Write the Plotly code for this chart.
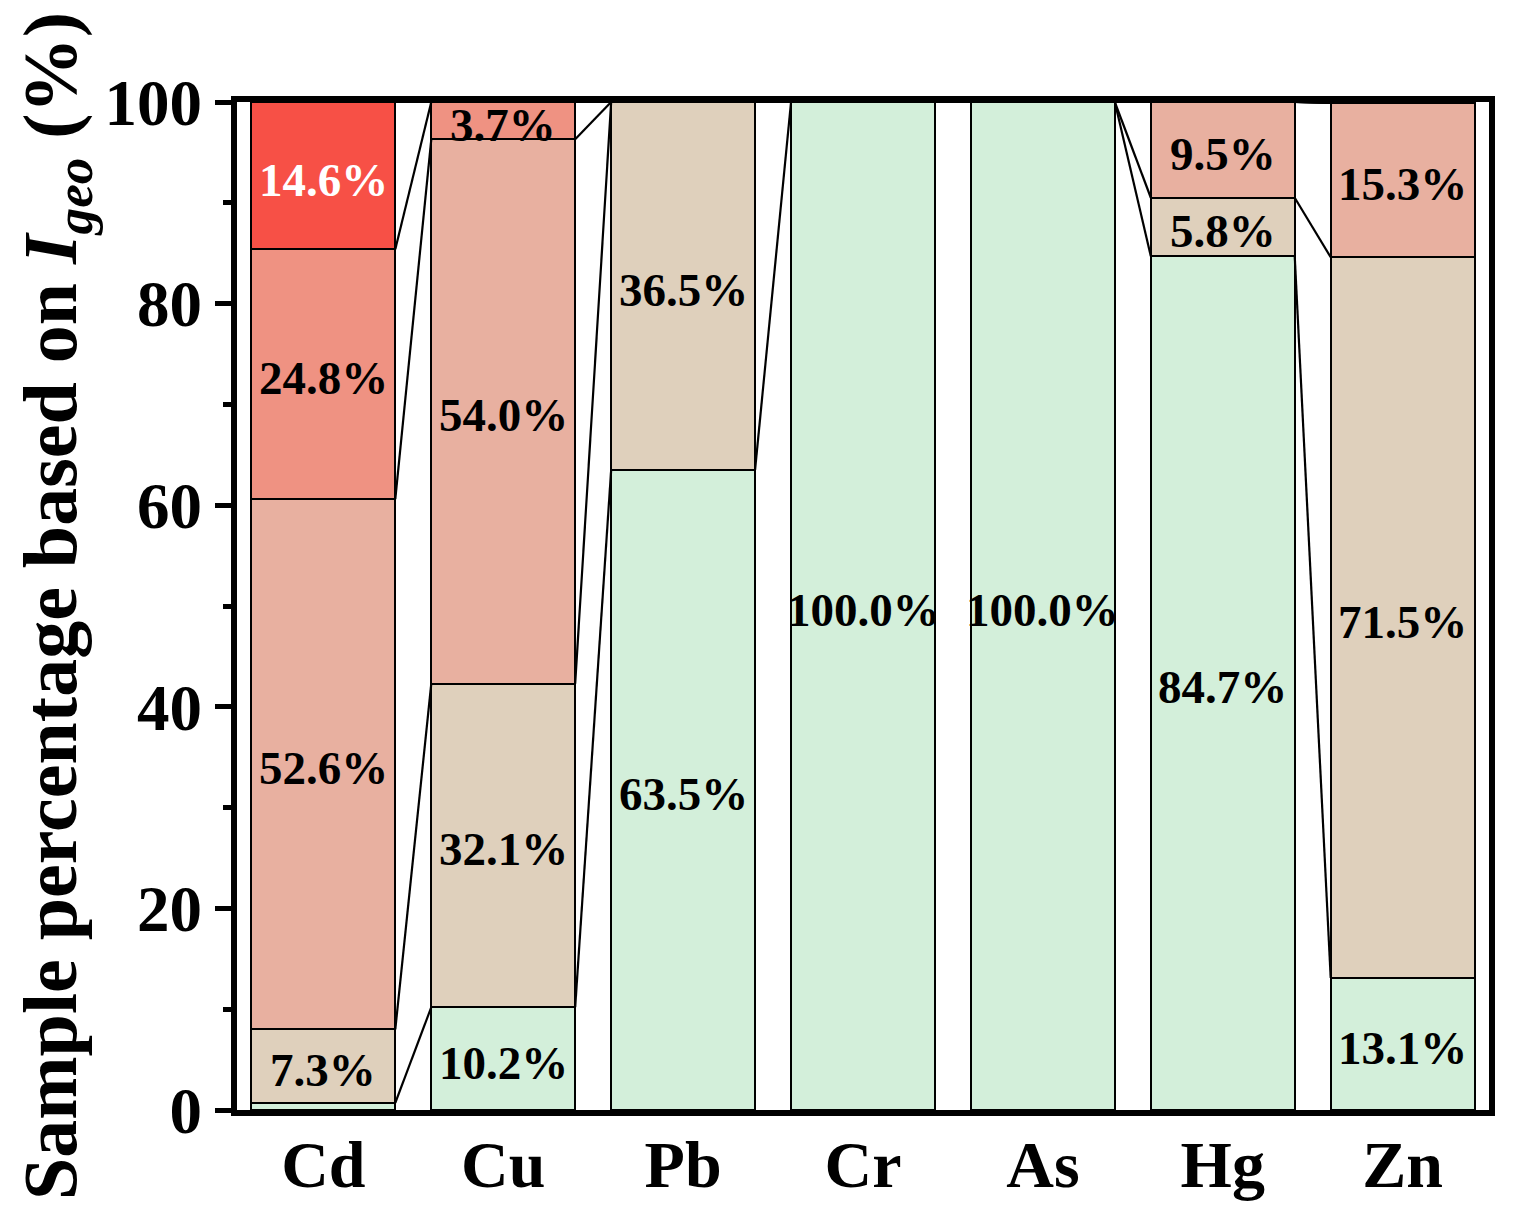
import plotly.graph_objects as go

ELEMENTS = ['Cd', 'Cu', 'Pb', 'Cr', 'As', 'Hg', 'Zn']

# share of samples (%) in each Igeo class, bottom -> top
CLASS_0 = [0.7, 10.2, 63.5, 100.0, 100.0, 84.7, 13.1]
CLASS_1 = [7.3, 32.1, 36.5, 0, 0, 5.8, 71.5]
CLASS_2 = [52.6, 54.0, 0, 0, 0, 9.5, 15.3]
CLASS_3 = [24.8, 3.7, 0, 0, 0, 0, 0]
CLASS_4 = [14.6, 0, 0, 0, 0, 0, 0]

CLASSES = [CLASS_0, CLASS_1, CLASS_2, CLASS_3, CLASS_4]
COLORS = ['#d3efda', '#dfd0bc', '#e8b0a0', '#ef9282', '#f75046']
TXT_COLORS = ['black', 'black', 'black', 'black', 'white']

FONT = 'Liberation Serif, Times New Roman, serif'
BW = 0.8
xs = list(range(len(ELEMENTS)))

fig = go.Figure()

# stacked bars
for vals, col in zip(CLASSES, COLORS):
    fig.add_trace(go.Bar(x=xs, y=[v if v else None for v in vals], width=BW,
                         marker=dict(color=col, line=dict(color='black', width=2)),
                         hoverinfo='skip'))

# cumulative boundaries per element
cum = []
for j in range(len(ELEMENTS)):
    c, acc = [], 0.0
    for vals in CLASSES:
        acc += vals[j]
        c.append(acc)
    cum.append(c)

# connector lines between neighbouring bars
lx, ly = [], []
for j in range(len(ELEMENTS) - 1):
    for k in range(len(CLASSES)):
        lx += [xs[j] + BW / 2, xs[j + 1] - BW / 2, None]
        ly += [cum[j][k], cum[j + 1][k], None]
fig.add_trace(go.Scatter(x=lx, y=ly, mode='lines', line=dict(color='black', width=2.2),
                         hoverinfo='skip'))

# segment labels
for k, (vals, tc) in enumerate(zip(CLASSES, TXT_COLORS)):
    for j, v in enumerate(vals):
        if v >= 1:
            fig.add_annotation(x=xs[j], y=cum[j][k] - v / 2, text=f'{v:.1f}%',
                               showarrow=False, yshift=-4,
                               font=dict(family=FONT, size=47, color=tc, weight='bold'))

# page body adds an 8px margin, so the figure is 8px smaller than the window
fig.update_layout(
    barmode='stack', showlegend=False, width=1508, height=1211,
    paper_bgcolor='white', plot_bgcolor='white',
    margin=dict(l=229, r=27, t=94, b=109),
    font=dict(family=FONT, size=62, color='black', weight='bold'),
)
fig.update_xaxes(range=[-0.48, 6.48], tickvals=xs, ticktext=ELEMENTS, automargin=False,
                 showline=True, linewidth=6, linecolor='black', mirror=True,
                 ticks='', ticklabelstandoff=-8, showgrid=False, zeroline=False,
                 tickfont=dict(family=FONT, size=66, weight='bold'))
fig.update_yaxes(range=[0, 100], dtick=20, automargin=False,
                 showline=True, linewidth=6, linecolor='black',
                 mirror=True, ticks='outside', ticklen=16, tickwidth=5, tickcolor='black',
                 minor=dict(dtick=10, ticks='outside', ticklen=8, tickwidth=5, tickcolor='black'),
                 showgrid=False, zeroline=False,
                 tickfont=dict(family=FONT, size=65, weight='bold'),
                 title=dict(text='Sample percentage based on <i>I</i><sub><i>geo</i></sub> (%)',
                            font=dict(family=FONT, size=76, weight='bold'), standoff=6))

fig.write_html('out.html')
